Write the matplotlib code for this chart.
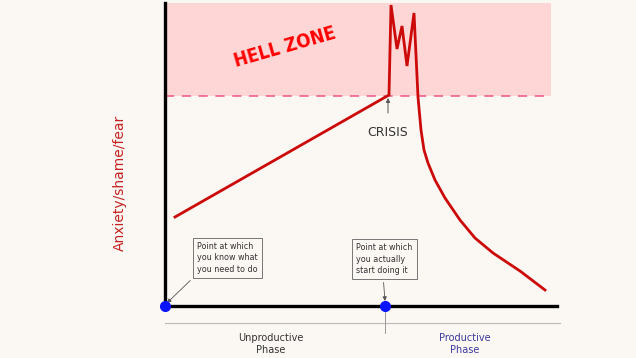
import matplotlib
matplotlib.use('Agg')
import matplotlib.pyplot as plt
from matplotlib.patches import Rectangle
from matplotlib import font_manager

# curve (time units, anxiety units)
time = [10, 224, 226, 232, 237, 242, 249, 253, 256, 259, 263, 270, 280, 295, 310, 328, 355, 380]
anxiety = [89, 211, 301, 257, 280, 240, 293, 209, 176, 156, 143, 126, 108, 86, 68, 53, 35, 16]

hell_threshold = 210
hell_top = 303
x_max = 392
zone_end = 386
know_point = 0
start_point = 220
crisis_time = 224

BG = '#fbf7f3'
RED = '#cc0a0a'

names = {f.name for f in font_manager.fontManager.ttflist}
hell_font = 'Liberation Sans Narrow' if 'Liberation Sans Narrow' in names else 'DejaVu Sans'

fig = plt.figure(figsize=(6.36, 3.58), dpi=100, facecolor=BG)
W, H = 636, 358
ax = fig.add_axes([165 / W, (H - 306) / H, (x_max) / W, 303 / H])
ax.set_xlim(0, x_max)
ax.set_ylim(0, hell_top)
ax.patch.set_alpha(0)

# hell zone
ax.add_patch(Rectangle((0, hell_threshold), zone_end, hell_top - hell_threshold,
                       facecolor='#fdd6d5', edgecolor='none', zorder=0))
ax.plot([0, zone_end], [hell_threshold, hell_threshold], ls=(0, (6, 5)),
        color='#ee5588', lw=1.1, zorder=1)

ax.plot(time, anxiety, color=RED, lw=2, solid_joinstyle='miter', zorder=3)

for s in ['top', 'right']:
    ax.spines[s].set_visible(False)
for s in ['left', 'bottom']:
    ax.spines[s].set_linewidth(2.4)
    ax.spines[s].set_color('black')
ax.set_xticks([])
ax.set_yticks([])

ax.plot([know_point, start_point], [0, 0], 'o', color='#0a14ff', ms=7,
        clip_on=False, zorder=5)

ax.text(120, 259, 'HELL ZONE', color='#ff0000', fontsize=13.5, fontweight='heavy',
        family=hell_font, stretch='condensed', rotation=16,
        ha='center', va='center')

# crisis annotation
ax.annotate('CRISIS', xy=(crisis_time - 1, hell_threshold - 2),
            xytext=(crisis_time - 1, 174), ha='center', va='center',
            fontsize=9, color='#333333',
            arrowprops=dict(arrowstyle='-|>', color='#555555', lw=0.7,
                            mutation_scale=6, shrinkB=0, shrinkA=7))

box = dict(boxstyle='square,pad=0.55', facecolor=BG, edgecolor='#777777', lw=0.7)
ax.annotate('Point at which\nyou know what\nyou need to do', xy=(2, 3),
            xytext=(32, 48), fontsize=5.8, color='#333333', ha='left', va='center',
            linespacing=1.35, bbox=box, annotation_clip=False,
            arrowprops=dict(arrowstyle='-|>', color='#555555', lw=0.6,
                            mutation_scale=6, shrinkB=0,
                            relpos=(0, 0)))
ax.annotate('Point at which\nyou actually\nstart doing it', xy=(start_point, 5),
            xytext=(191, 47), fontsize=5.8, color='#333333', ha='left', va='center',
            linespacing=1.35, bbox=box, annotation_clip=False,
            arrowprops=dict(arrowstyle='-|>', color='#555555', lw=0.6,
                            mutation_scale=6, shrinkB=0,
                            relpos=(0.48, 0)))

# phase ruler below the axis
ax.plot([0, 395], [-17, -17], color='#bbbbbb', lw=0.8, clip_on=False)
ax.plot([start_point, start_point], [0, -27], color='#999999', lw=0.7, clip_on=False)
ax.text(106, -38, 'Unproductive\nPhase', ha='center', va='center', fontsize=7,
        color='#333333', linespacing=1.2)
ax.text(300, -38, 'Productive\nPhase', ha='center', va='center', fontsize=7,
        color='#3a3aa0', linespacing=1.2)

fig.text(120 / W, 1 - 183 / H, 'Anxiety/shame/fear', rotation=90, color='#c42222',
         fontsize=10, ha='center', va='center')

fig.savefig('out.png', dpi=100, facecolor=BG)
